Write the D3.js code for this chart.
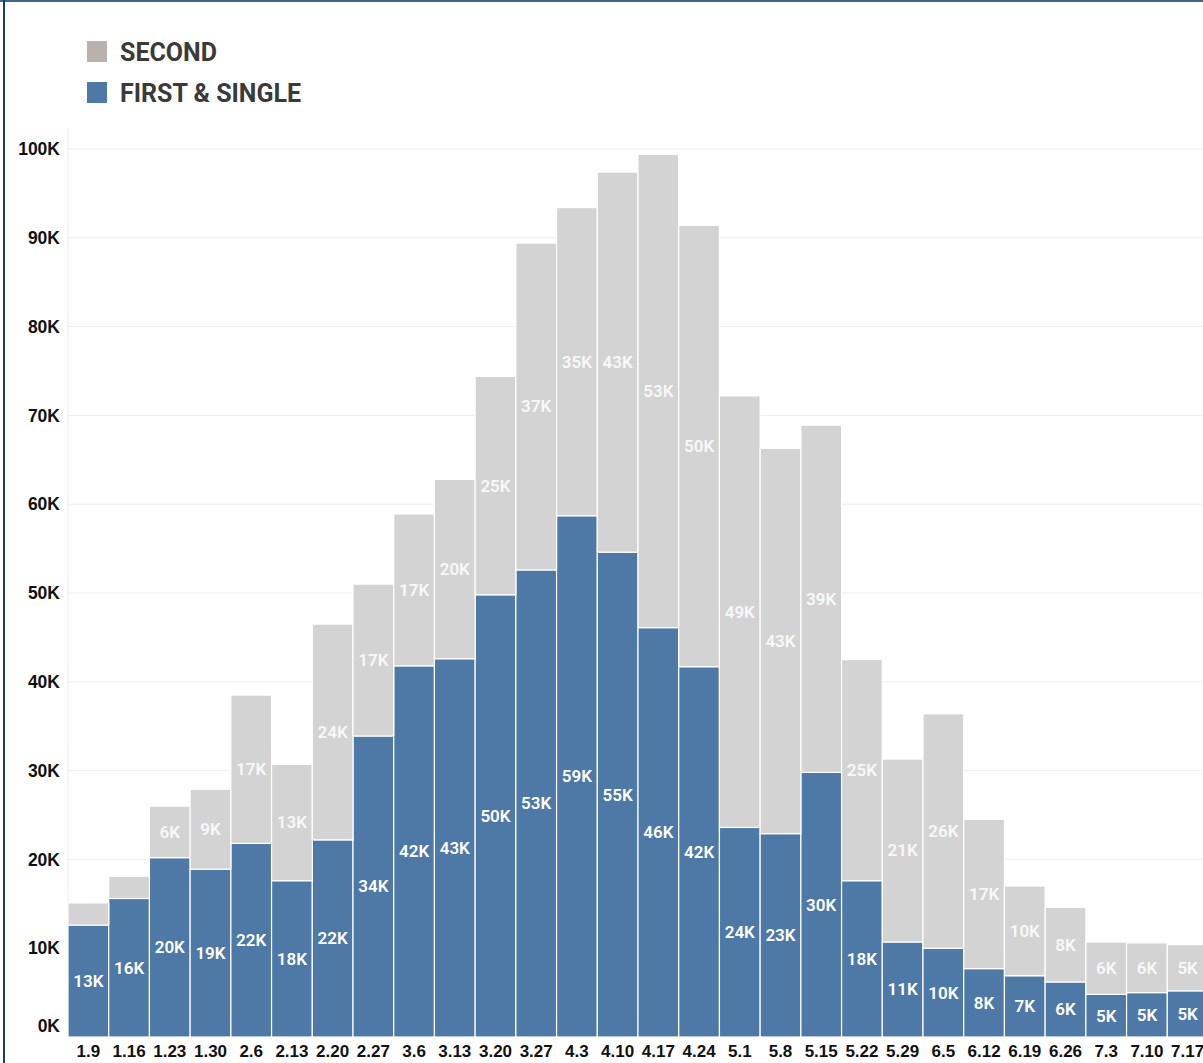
<!DOCTYPE html>
<html>
<head>
<meta charset="utf-8">
<script src="https://cdn.jsdelivr.net/npm/d3@7"></script>
<style>
  html, body { margin: 0; padding: 0; background: #fff; }
  svg { display: block; font-family: Roboto, "Liberation Sans", sans-serif; }
</style>
</head>
<body>
<svg id="chart"></svg>
<script>
// -- DATA --
const weeks = ["1.9", "1.16", "1.23", "1.30", "2.6", "2.13", "2.20", "2.27", "3.6", "3.13",
  "3.20", "3.27", "4.3", "4.10", "4.17", "4.24", "5.1", "5.8", "5.15", "5.22",
  "5.29", "6.5", "6.12", "6.19", "6.26", "7.3", "7.10", "7.17"];
const firstSingle = [12600, 15600, 20200, 18900, 21800, 17600, 22200, 33900, 41800, 42600,
  49800, 52600, 58700, 54600, 46100, 41700, 23600, 22900, 29800, 17600,
  10700, 10000, 7700, 6900, 6200, 4800, 5000, 5200];
const second = [2500, 2500, 5800, 9000, 16700, 13100, 24300, 17100, 17100, 20200,
  24600, 36800, 34700, 42800, 53300, 49700, 48600, 43400, 39100, 24900,
  20600, 26400, 16800, 10100, 8400, 5900, 5600, 5200];
const yTicks = [0, 10000, 20000, 30000, 40000, 50000, 60000, 70000, 80000, 90000, 100000];
const seriesKeys = ["first", "second"];
const legendItems = [
  { key: "second", label: "SECOND" },
  { key: "first", label: "FIRST & SINGLE" }
];

// -- SETUP --
const width = 1203;
const height = 1063;
const plot = { left: 68, right: 1208, top: 149, bottom: 1037 };
const barColor = { first: "#4e79a7", second: "#d3d3d3" };
const legendColor = { first: "#4e79a7", second: "#bab0ac" };
const labelColor = { first: "#ffffff", second: "#f8f8f8" };

const svg = d3.select("#chart").attr("width", width).attr("height", height);

// frame lines (top and left)
svg.append("rect").attr("x", 0).attr("y", 0).attr("width", width).attr("height", 2)
  .style("fill", "#3d6590");
svg.append("rect").attr("x", 3).attr("y", 0).attr("width", 2).attr("height", height)
  .style("fill", "#1f3d5c");

// table for stacking
const rows = weeks.map((w, i) => ({ week: w, first: firstSingle[i], second: second[i] }));
const stacked = d3.stack().keys(seriesKeys)(rows);

// Scales & Axis
const x = d3.scaleBand().domain(weeks).range([plot.left, plot.right]).padding(0);
const y = d3.scaleLinear().domain([0, 100000]).range([plot.bottom, plot.top]);
const fmtK = (v) => `${Math.round(v / 1000)}K`;

// gridlines
svg.append("g")
  .selectAll("line")
  .data(yTicks.filter((t) => t > 0))
  .enter()
  .append("line")
  .attr("x1", plot.left)
  .attr("x2", width)
  .attr("y1", (d) => y(d))
  .attr("y2", (d) => y(d))
  .style("stroke", "#efefef")
  .style("stroke-width", 1);

// y axis
const yAxis = svg.append("g")
  .attr("transform", `translate(${plot.left},0)`)
  .call(d3.axisLeft(y).tickValues(yTicks).tickFormat(fmtK).tickSize(0).tickPadding(8));
yAxis.select(".domain").remove();
yAxis.selectAll("text")
  .style("font-size", "17.5px")
  .style("font-weight", "600")
  .style("fill", "#111")
  .attr("dy", (d) => (d === 0 ? "-0.3em" : "0.32em")); // zero label sits above the baseline
svg.append("line")
  .attr("x1", plot.left).attr("x2", plot.left)
  .attr("y1", 128).attr("y2", plot.bottom)
  .style("stroke", "#ececec");

// bars
const layers = svg.append("g")
  .selectAll("g")
  .data(stacked)
  .enter()
  .append("g")
  .style("fill", (d) => barColor[d.key]);
layers.selectAll("rect")
  .data((d) => d)
  .enter()
  .append("rect")
  .attr("x", (d) => x(d.data.week))
  .attr("y", (d) => y(d[1]))
  .attr("width", x.bandwidth())
  .attr("height", (d) => y(d[0]) - y(d[1]))
  .style("stroke", "#fff")
  .style("stroke-width", 1.2);

// segment labels (only when the segment is tall enough)
layers.each(function (layer) {
  d3.select(this)
    .selectAll("text")
    .data(layer.filter((d) => y(d[0]) - y(d[1]) > 26))
    .enter()
    .append("text")
    .attr("x", (d) => x(d.data.week) + x.bandwidth() / 2)
    .attr("y", (d) => (y(d[0]) + y(d[1])) / 2)
    .attr("dy", "0.35em")
    .attr("text-anchor", "middle")
    .style("fill", labelColor[layer.key])
    .style("font-size", "17px")
    .style("font-weight", "600")
    .text((d) => fmtK(d[1] - d[0]));
});

// x axis labels
const xAxis = svg.append("g")
  .attr("transform", `translate(0,${plot.bottom})`)
  .call(d3.axisBottom(x).tickSize(0).tickPadding(8));
xAxis.select(".domain").remove();
xAxis.selectAll("text")
  .style("font-size", "17px")
  .style("font-weight", "600")
  .style("fill", "#111");

// legend
const legend = svg.append("g")
  .selectAll("g")
  .data(legendItems)
  .enter()
  .append("g")
  .attr("transform", (d, i) => `translate(87,${41 + i * 41})`);
legend.append("rect")
  .attr("width", 20)
  .attr("height", 21)
  .style("fill", (d) => legendColor[d.key]);
legend.append("text")
  .attr("x", 33)
  .attr("y", 11)
  .attr("dy", "0.36em")
  .style("font-size", "25px")
  .style("font-weight", "700")
  .style("fill", "#3a3a3a")
  .text((d) => d.label);
</script>
</body>
</html>
